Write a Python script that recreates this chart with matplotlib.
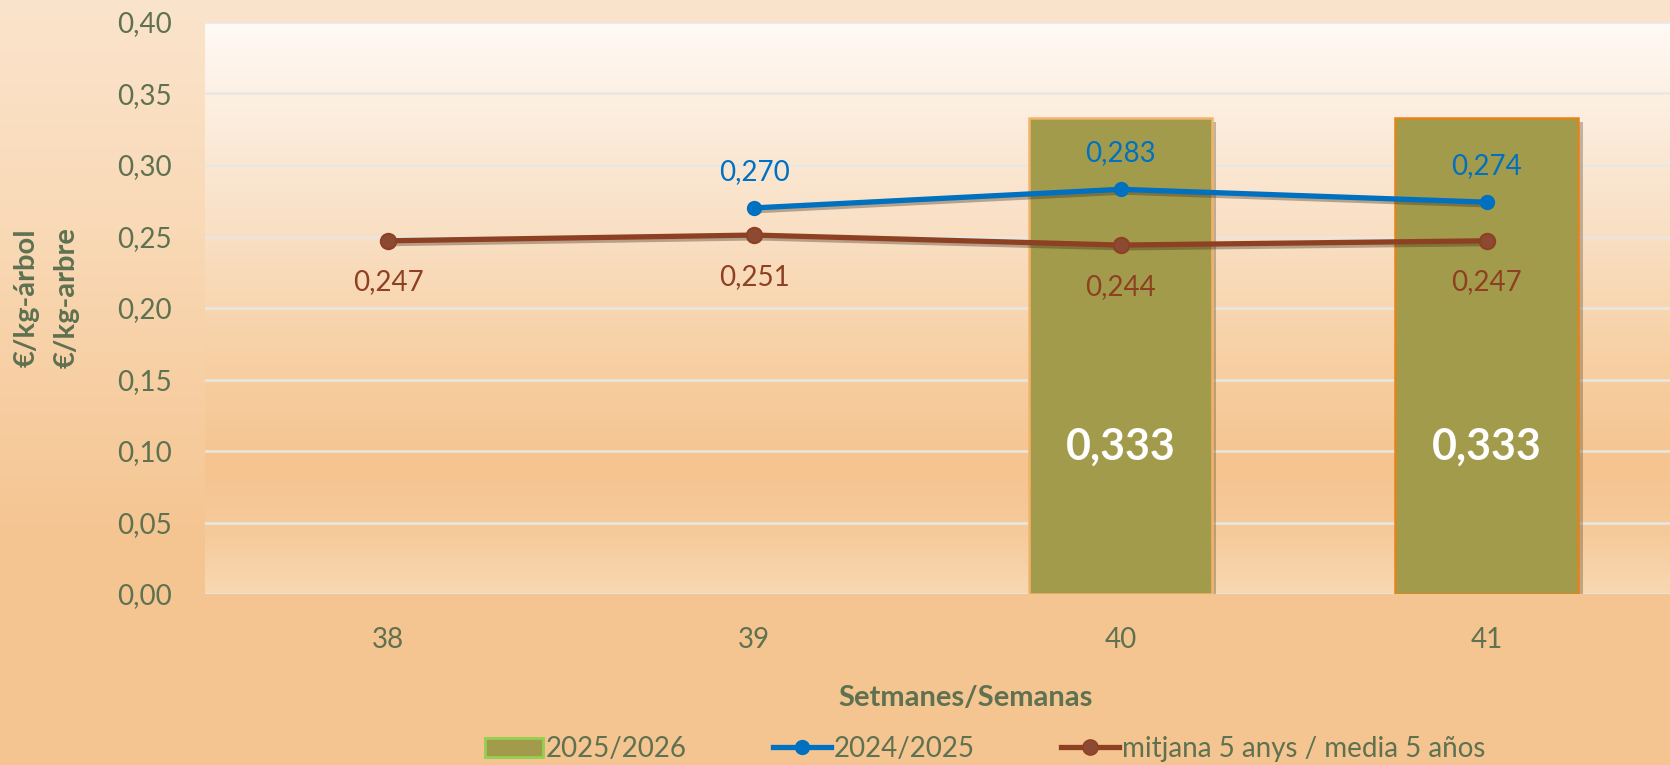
import numpy as np
import matplotlib
matplotlib.use("Agg")
import matplotlib.pyplot as plt
from matplotlib.colors import LinearSegmentedColormap
from matplotlib.ticker import FuncFormatter
from matplotlib.lines import Line2D
from matplotlib.patches import Patch
import matplotlib.patheffects as pe

plt.rcParams['font.family'] = ['Lato', 'DejaVu Sans']

weeks = ["38", "39", "40", "41"]
season_2025_26 = [np.nan, np.nan, 0.333, 0.333]
season_2024_25 = [np.nan, 0.270, 0.283, 0.274]
avg_5_years = [0.247, 0.251, 0.244, 0.247]
legend_labels = ["2025/2026", "2024/2025", "mitjana 5 anys / media 5 años"]
y_label_lines = ["€/kg-árbol", "€/kg-arbre"]
x_label = "Setmanes/Semanas"

TXT = '#5E7151'
BAR = '#A39B4C'
BLUE = '#0070C0'
BROWN = '#8E4122'
BROWN_MK = '#8C4A33'

W, H = 1670, 765
fig = plt.figure(figsize=(W / 100, H / 100), dpi=100)

# figure background gradient
bg = fig.add_axes([0, 0, 1, 1], zorder=-10)
bg.axis('off')
cm_bg = LinearSegmentedColormap.from_list('bg', [(0.0, '#F5C591'), (0.3, '#F5C591'), (0.7, '#F9D9B6'), (1.0, '#FBE4CC')])
bg.imshow(np.linspace(0, 1, 256).reshape(-1, 1), aspect='auto', cmap=cm_bg, origin='lower', extent=[0, 1, 0, 1])

left = 205 / W
bottom = (H - 594) / H
top = (H - 22) / H
ax = fig.add_axes([left, bottom, 1 - left, top - bottom])
ax.patch.set_alpha(0)
cm_pa = LinearSegmentedColormap.from_list('pa', [(0.0, '#F8D8B2'), (0.1, '#F6CB9C'), (0.22, '#F5C48F'),
                                                 (0.4, '#F7CFA2'), (0.6, '#F9DDBF'), (0.78, '#FBE9D6'), (1.0, '#FFFAF5')])
ax.imshow(np.linspace(0, 1, 256).reshape(-1, 1), aspect='auto', cmap=cm_pa, origin='lower',
          extent=[0, 1, 0, 1], transform=ax.transAxes, zorder=0)

x = np.arange(len(weeks))
ax.set_xlim(-0.5, len(weeks) - 0.5)
ax.set_ylim(0, 0.40)
ax.set_yticks(np.arange(0, 0.401, 0.05))
ax.yaxis.set_major_formatter(FuncFormatter(lambda v, p: f"{v:.2f}".replace('.', ',')))
ax.set_xticks(x)
ax.set_xticklabels(weeks)
ax.grid(axis='y', color='#E9E7E2', lw=1.8, zorder=1)
ax.set_axisbelow(True)
for s in ax.spines.values():
    s.set_visible(False)
ax.tick_params(axis='both', length=0, labelsize=20, colors=TXT)
ax.tick_params(axis='y', pad=24)
ax.tick_params(axis='x', pad=24)

# bars
shadow = [pe.SimplePatchShadow(offset=(3, -3), shadow_rgbFace='#5a4a30', alpha=0.35), pe.Normal()]
bars = ax.bar(x, season_2025_26, width=0.5, color=BAR, edgecolor=['none', 'none', '#F2B46A', '#E0851C'],
              linewidth=1.8, zorder=2)
for b in bars:
    b.set_path_effects(shadow)
for xi, v in zip(x, season_2025_26):
    if not np.isnan(v):
        ax.text(xi, v * 0.31, f"{v:.3f}".replace('.', ','), ha='center', va='center',
                color='white', fontsize=31, fontweight='bold', zorder=6)

lshadow = [pe.SimpleLineShadow(offset=(2, -2), shadow_color='#3a2a1a', alpha=0.35), pe.Normal()]
ax.plot(x, season_2024_25, color=BLUE, lw=3.8, zorder=4, path_effects=lshadow)
ax.plot(x, season_2024_25, ls='none', marker='o', ms=10, mfc=BLUE, mec=BLUE, zorder=5)
ax.plot(x, avg_5_years, color=BROWN, lw=3.8, zorder=4, path_effects=lshadow)
ax.plot(x, avg_5_years, ls='none', marker='o', ms=11, mfc=BROWN_MK, mec=BROWN, mew=1.5, zorder=5)

for xi, v in zip(x, season_2024_25):
    if not np.isnan(v):
        ax.annotate(f"{v:.3f}".replace('.', ','), (xi, v), xytext=(0, 26), textcoords='offset points',
                    ha='center', va='center', color=BLUE, fontsize=20, zorder=6)
for xi, v in zip(x, avg_5_years):
    ax.annotate(f"{v:.3f}".replace('.', ','), (xi, v), xytext=(0, -30), textcoords='offset points',
                ha='center', va='center', color=BROWN, fontsize=20, zorder=6)

# y label (two lines)
fig.text(27 / W, (H - 298) / H, y_label_lines[0], rotation=90, ha='center', va='center',
         color=TXT, fontsize=21, fontweight='bold')
fig.text(67 / W, (H - 298) / H, y_label_lines[1], rotation=90, ha='center', va='center',
         color=TXT, fontsize=21, fontweight='bold')

fig.text(966 / W, (H - 698) / H, x_label, ha='center', va='center', color=TXT,
         fontsize=21, fontweight='bold')

handles = [Patch(facecolor=BAR, edgecolor='#92D050', lw=2),
           Line2D([0], [0], color=BLUE, lw=3.8, marker='o', ms=10, mfc=BLUE, mec=BLUE),
           Line2D([0], [0], color=BROWN, lw=3.8, marker='o', ms=11, mfc=BROWN_MK, mec=BROWN)]
leg = fig.legend(handles, legend_labels, loc='center', bbox_to_anchor=(985 / W, (H - 749) / H),
                 ncol=3, frameon=False, fontsize=20, handlelength=2.1, handletextpad=0.1,
                 columnspacing=3.1, labelcolor=TXT, borderaxespad=0)

fig.savefig("out.png", dpi=100)
